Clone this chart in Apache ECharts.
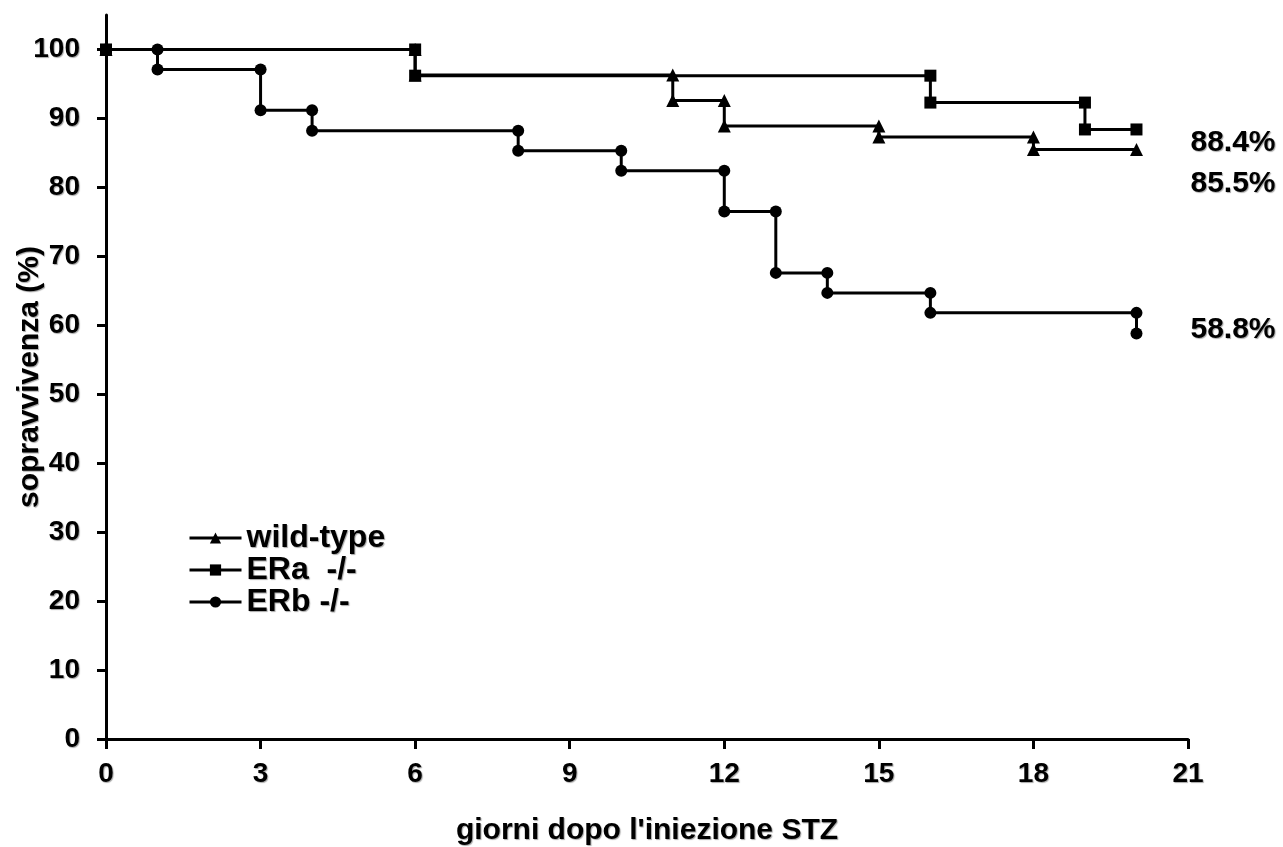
<!DOCTYPE html>
<html>
<head>
<meta charset="utf-8">
<script src="https://cdn.jsdelivr.net/npm/echarts@6/dist/echarts.min.js"></script>
<style>
  html, body { margin: 0; padding: 0; background: #fff; }
  #main { width: 1283px; height: 847px; }
</style>
</head>
<body>
<div id="main"></div>
<script>
// survival data (day of event, survival % after it)
var wtDays = [0, 6, 11, 12, 15, 18, 20];
var wtSurv = [100, 96.3, 92.6, 88.9, 87.3, 85.5, 85.5];
var eraDays = [0, 6, 16, 19, 20];
var eraSurv = [100, 96.2, 92.3, 88.4, 88.4];
var erbDays = [0, 1, 3, 4, 8, 10, 12, 13, 14, 16, 20];
var erbSurv = [100, 97.1, 91.2, 88.2, 85.3, 82.4, 76.5, 67.6, 64.7, 61.8, 58.8];
var yTicks = [0, 10, 20, 30, 40, 50, 60, 70, 80, 90, 100];
var seriesNames = ['wild-type', 'ERa  -/-', 'ERb -/-'];
var endLabels = ['85.5%', '88.4%', '58.8%'];

var FONT = '"Liberation Sans", Arial, sans-serif';
var shadow = {
  textShadowColor: 'rgba(0,0,0,0.35)',
  textShadowOffsetX: 1,
  textShadowOffsetY: 1,
  textShadowBlur: 1
};

// turn (day, survival) pairs into Kaplan-Meier step vertices
function steps(days, surv) {
  var pts = [[days[0], surv[0]]];
  for (var i = 1; i < days.length; i++) {
    if (surv[i] !== surv[i - 1]) {
      pts.push([days[i], surv[i - 1]]);
    }
    pts.push([days[i], surv[i]]);
  }
  return pts;
}

function textStyle(size) {
  return Object.assign({
    color: '#000',
    fontFamily: FONT,
    fontWeight: 'bold',
    fontSize: size
  }, shadow);
}

function makeSeries(name, days, surv, symbol, label, offset, z) {
  return {
    name: name,
    type: 'line',
    data: steps(days, surv),
    symbol: symbol,
    symbolSize: symbol === 'triangle' ? 13 : 12,
    showAllSymbol: true,
    z: z,
    lineStyle: { color: '#000', width: 3 },
    itemStyle: { color: '#000' },
    endLabel: Object.assign({
      show: true,
      formatter: label,
      distance: 0,
      offset: offset,
      align: 'left',
      verticalAlign: 'middle'
    }, textStyle(30)),
    emphasis: { disabled: true }
  };
}

var chart = echarts.init(document.getElementById('main'));
chart.setOption({
  animation: false,
  backgroundColor: '#fff',
  grid: { left: 106, right: 95, top: 15, bottom: 108, outerBoundsMode: 'none', containLabel: false },
  legend: {
    data: seriesNames,
    orient: 'vertical',
    left: 183,
    top: 517,
    itemWidth: 52,
    itemHeight: 14,
    itemGap: 0,
    lineStyle: { width: 3 },
    textStyle: Object.assign(textStyle(32), { lineHeight: 32 })
  },
  xAxis: {
    type: 'value',
    min: 0,
    max: 21,
    interval: 3,
    name: "giorni dopo l'iniezione STZ",
    nameLocation: 'middle',
    nameGap: 77,
    nameMoveOverlap: false,
    nameTextStyle: textStyle(30),
    axisLine: { lineStyle: { color: '#000', width: 3 } },
    axisTick: { length: 10, lineStyle: { color: '#000', width: 3 } },
    axisLabel: Object.assign({ margin: 21 }, textStyle(28)),
    splitLine: { show: false }
  },
  yAxis: {
    type: 'value',
    min: 0,
    max: 105,
    name: 'sopravvivenza (%)',
    nameLocation: 'middle',
    nameGap: 61,
    nameMoveOverlap: false,
    nameTextStyle: textStyle(30),
    axisLine: { show: true, lineStyle: { color: '#000', width: 3 } },
    axisTick: { show: true, length: 9, customValues: yTicks, lineStyle: { color: '#000', width: 3 } },
    axisLabel: Object.assign({ margin: 26, customValues: yTicks }, textStyle(28)),
    splitLine: { show: false }
  },
  series: [
    makeSeries(seriesNames[2], erbDays, erbSurv, 'circle', endLabels[2], [54, -4], 2),
    makeSeries(seriesNames[0], wtDays, wtSurv, 'triangle', endLabels[0], [54, 34], 3),
    makeSeries(seriesNames[1], eraDays, eraSurv, 'rect', endLabels[1], [54, 13], 4)
  ]
});
</script>
</body>
</html>
